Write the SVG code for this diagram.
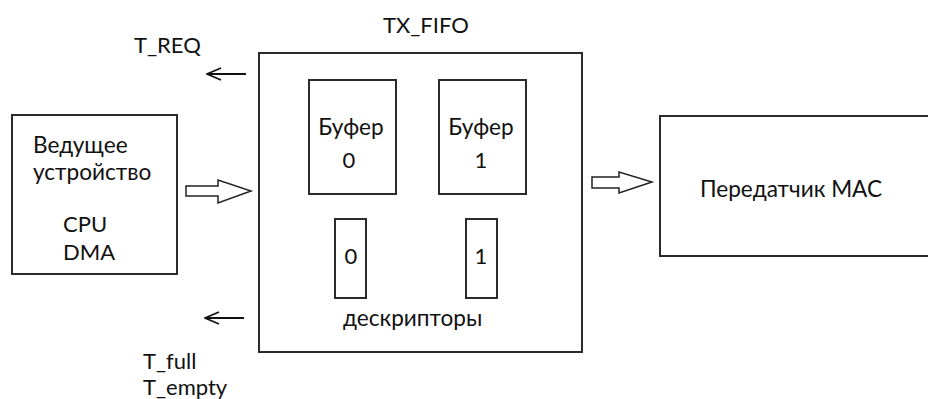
<svg xmlns="http://www.w3.org/2000/svg" width="928" height="399" viewBox="0 0 928 399">
<defs>
<style>
.box{fill:none;stroke:#2b2b2b;stroke-width:2}
.t{font-family:Lato,"Noto Sans","DejaVu Sans",sans-serif;font-size:22px;fill:#111}
.cy{font-size:22.6px}
.c{text-anchor:middle}
.blk{fill:#fff;stroke:#222;stroke-width:1.5;stroke-linejoin:miter}
.thin{fill:none;stroke:#111;stroke-width:1.8}
</style>
<marker id="open" viewBox="0 0 16 14" refX="15" refY="7" markerWidth="16" markerHeight="14" markerUnits="userSpaceOnUse" orient="auto">
<path d="M1,1 L15,7 L1,13" fill="none" stroke="#111" stroke-width="1.8"/>
</marker>
</defs>
<rect width="928" height="399" fill="#fff"/>
<g id="host">
<rect class="box" x="12" y="115" width="165" height="159"/>
<text class="t cy" x="33" y="153">Ведущее</text>
<text class="t cy" x="33" y="180">устройство</text>
<text class="t" x="63" y="232">CPU</text>
<text class="t" x="63" y="260">DMA</text>
</g>
<g id="tx_fifo">
<rect class="box" x="259" y="53" width="323" height="299"/>
<text class="t" x="383" y="33">TX_FIFO</text>
<text class="t cy" x="343" y="326">дескрипторы</text>
</g>
<g id="buf0">
<rect class="box" x="309" y="80" width="87" height="114"/>
<text class="t c cy" x="351" y="135">Буфер</text>
<text class="t c" x="349" y="168">0</text>
</g>
<g id="buf1">
<rect class="box" x="439" y="80" width="87" height="114"/>
<text class="t c cy" x="481" y="135">Буфер</text>
<text class="t c" x="481" y="168">1</text>
</g>
<g id="desc0">
<rect class="box" x="335" y="219" width="31" height="79"/>
<text class="t c" x="351" y="264">0</text>
</g>
<g id="desc1">
<rect class="box" x="466" y="219" width="31" height="79"/>
<text class="t c" x="481" y="264">1</text>
</g>
<g id="mac">
<rect class="box" x="660" y="116" width="290" height="140"/>
<text class="t cy" x="700" y="197">Передатчик MAC</text>
</g>
<g id="signals">
<text class="t" x="134" y="53">T_REQ</text>
<text class="t" x="143" y="369">T_full</text>
<text class="t" x="143" y="395">T_empty</text>
</g>
<g id="connectors">
<path class="blk" d="M186,186 L218,186 L218,180 L251,191 L218,203 L218,196 L186,196 Z"/>
<path class="blk" d="M592,177 L619,177 L619,172 L652,182 L619,193 L619,188 L592,188 Z"/>
<line class="thin" x1="246" y1="74" x2="207" y2="74" marker-end="url(#open)"/>
<line class="thin" x1="244" y1="318" x2="205" y2="318" marker-end="url(#open)"/>
</g>
</svg>
